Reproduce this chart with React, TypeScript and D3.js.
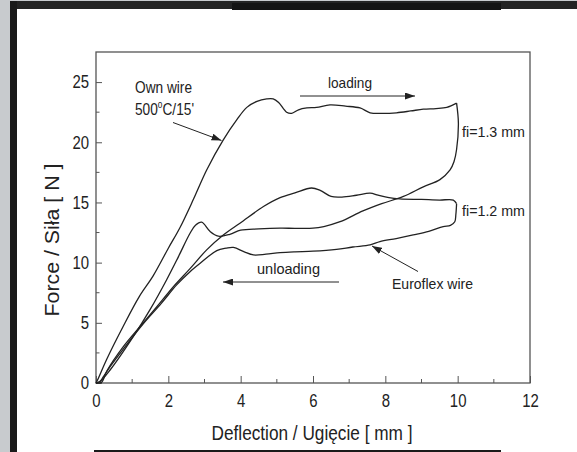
import React, { useEffect, useRef } from 'react';
import * as d3 from 'd3';

// Own wire 500°C/15', fi = 1.3 mm
const ownLoadX = [0, 0.05, 0.3, 0.75, 1.2, 1.58, 2.0, 2.32, 2.7, 3.06, 3.52, 3.9, 4.17, 4.45, 4.72, 4.9, 5.05, 5.27, 5.41, 5.6, 5.83, 6.1, 6.47, 6.9, 7.3, 7.58, 7.9, 8.31, 8.7, 9.05, 9.4, 9.7, 9.97];
const ownLoadF = [0, 0.3, 2.0, 4.7, 7.2, 8.9, 11.2, 12.9, 15.3, 17.7, 20.2, 21.9, 22.9, 23.4, 23.6, 23.6, 23.3, 22.5, 22.4, 22.7, 22.85, 22.9, 23.1, 23.0, 22.85, 22.45, 22.4, 22.45, 22.6, 22.75, 22.8, 22.9, 23.25];
const ownUnloadX = [9.97, 10.02, 9.97, 9.9, 9.79, 9.51, 9.05, 8.5, 7.9, 7.38, 6.75, 6.3, 6.0, 5.5, 5.09, 4.5, 4.0, 3.7, 3.38, 3.15, 2.92, 2.75, 2.6, 2.28, 1.95, 1.49, 1.03, 0.39, 0.1, 0];
const ownUnloadF = [23.25, 21.6, 19.4, 18.4, 17.7, 16.9, 16.3, 15.5, 14.9, 14.3, 13.4, 13.0, 12.86, 12.85, 12.86, 12.8, 12.7, 12.35, 12.2, 12.6, 13.36, 13.1, 12.44, 10.5, 8.56, 6.07, 3.85, 1.08, 0.1, 0];

// Euroflex wire, fi = 1.2 mm
const euroLoadX = [0, 0.15, 0.3, 0.75, 1.22, 1.7, 2.14, 2.6, 3.06, 3.52, 3.98, 4.63, 5.09, 5.5, 5.96, 6.2, 6.5, 6.8, 7.2, 7.58, 7.8, 8.1, 8.4, 9.0, 9.5, 9.88, 9.97];
const euroLoadF = [0, 0.05, 1.0, 3.0, 4.7, 6.4, 8.0, 9.5, 11.06, 12.3, 13.27, 14.66, 15.4, 15.8, 16.2, 16.0, 15.5, 15.45, 15.6, 15.77, 15.6, 15.4, 15.3, 15.25, 15.2, 15.2, 14.9];
const euroUnloadX = [9.97, 9.95, 9.92, 9.8, 9.6, 9.2, 8.77, 8.3, 7.85, 7.58, 7.1, 6.65, 6.0, 5.5, 5.09, 4.7, 4.35, 4.1, 3.8, 3.6, 3.34, 2.88, 2.6, 2.23, 1.8, 1.3, 0.75, 0.4, 0.2, 0.1, 0];
const euroUnloadF = [14.9, 14.0, 13.4, 13.1, 13.0, 12.6, 12.3, 12.0, 11.75, 11.47, 11.3, 11.1, 10.95, 10.9, 10.83, 10.7, 10.64, 10.9, 11.26, 11.2, 11.0, 9.95, 9.25, 8.15, 6.6, 4.9, 2.8, 1.4, 0.5, 0.1, 0];

const xMajor = [0, 2, 4, 6, 8, 10, 12];
const xMinor = [1, 3, 5, 7, 9, 11];
const yMajor = [0, 5, 10, 15, 20, 25];
const yMinor = [2.5, 7.5, 12.5, 17.5, 22.5];

const font = "'Liberation Sans', Arial, sans-serif";
const ink = '#222';

const App = () => {
  const ref = useRef<SVGSVGElement>(null);

  useEffect(() => {
    const svg = d3.select(ref.current);
    svg.selectAll('*').remove();

    // page frame
    svg.append('rect').attr('width', 577).attr('height', 452).attr('fill', '#fff');
    svg.append('rect').attr('x', 0).attr('y', 0).attr('width', 10).attr('height', 452).attr('fill', '#c8cbce');
    svg.append('rect').attr('x', 10).attr('y', 0).attr('width', 567).attr('height', 1).attr('fill', '#c8cbce');
    svg.append('rect').attr('x', 10).attr('y', 1).attr('width', 567).attr('height', 8).attr('fill', '#242424');
    svg.append('rect').attr('x', 232).attr('y', 3).attr('width', 269).attr('height', 7).attr('fill', '#141414');
    svg.append('rect').attr('x', 10).attr('y', 1).attr('width', 7).attr('height', 451).attr('fill', '#1a1a1a');
    svg.append('rect').attr('x', 94).attr('y', 450).attr('width', 407).attr('height', 2).attr('fill', '#1a1a1a');

    const x = d3.scaleLinear().domain([0, 12]).range([96, 530]);
    const y = d3.scaleLinear().domain([0, 27.5]).range([383, 52]);

    const defs = svg.append('defs');
    defs.append('marker')
      .attr('id', 'head')
      .attr('markerUnits', 'userSpaceOnUse')
      .attr('markerWidth', 10).attr('markerHeight', 7)
      .attr('refX', 10).attr('refY', 3.5)
      .attr('orient', 'auto')
      .append('path').attr('d', 'M0,0 L10,3.5 L0,7 Z').attr('fill', ink);

    // axes with inward ticks
    const xAxis = svg.append('g').attr('transform', 'translate(0,383)')
      .call(d3.axisBottom(x).tickValues(xMajor).tickSize(-7).tickPadding(11).tickFormat(d3.format('d')));
    xAxis.append('g').selectAll('line').data(xMinor).join('line')
      .attr('x1', d => x(d)).attr('x2', d => x(d)).attr('y1', 0).attr('y2', -4).attr('stroke', '#555');
    const yAxis = svg.append('g').attr('transform', 'translate(96,0)')
      .call(d3.axisLeft(y).tickValues(yMajor).tickSize(-6).tickPadding(7).tickFormat(d3.format('d')));
    yAxis.append('g').selectAll('line').data(yMinor).join('line')
      .attr('x1', 0).attr('x2', 3.5).attr('y1', d => y(d)).attr('y2', d => y(d)).attr('stroke', '#555');
    [xAxis, yAxis].forEach(g => {
      g.select('.domain').remove();
      g.selectAll('.tick line').attr('stroke', '#555');
      g.selectAll('.tick text')
        .attr('font-family', font).attr('font-size', 18).attr('fill', ink)
        .attr('lengthAdjust', 'spacingAndGlyphs')
        .attr('textLength', function () { return this.textContent.length * 8.3; });
    });

    svg.append('rect')
      .attr('x', x(0)).attr('y', y(27.5))
      .attr('width', x(12) - x(0)).attr('height', y(0) - y(27.5))
      .attr('fill', 'none').attr('stroke', '#555').attr('stroke-width', 1.3);

    // curves
    const line = d3.line<number>()
      .x(d => x(d[0]))
      .y(d => y(d[1]))
      .curve(d3.curveCatmullRom.alpha(0.5));
    const series = [
      [ownLoadX, ownLoadF],
      [ownUnloadX, ownUnloadF],
      [euroLoadX, euroLoadF],
      [euroUnloadX, euroUnloadF]
    ];
    series.forEach(([xs, fs]) => {
      svg.append('path')
        .datum(xs.map((v, i) => [v, fs[i]]))
        .attr('fill', 'none')
        .attr('stroke', ink)
        .attr('stroke-width', 1.3)
        .attr('stroke-linejoin', 'round')
        .attr('d', line);
    });

    // text helper, width forced to what the reference shows
    const note = (tx, ty, txt, size, width, anchor = 'start') =>
      svg.append('text').attr('x', tx).attr('y', ty)
        .attr('text-anchor', anchor)
        .attr('font-family', font).attr('font-size', size).attr('fill', ink)
        .attr('lengthAdjust', 'spacingAndGlyphs').attr('textLength', width)
        .text(txt);

    note(312, 440, 'Deflection / Ugięcie [ mm ]', 21, 201, 'middle');
    svg.append('text')
      .attr('transform', 'translate(58.5,240) rotate(-90)')
      .attr('text-anchor', 'middle')
      .attr('font-family', font).attr('font-size', 21).attr('fill', ink)
      .attr('lengthAdjust', 'spacingAndGlyphs').attr('textLength', 153)
      .text('Force / Siła [ N ]');

    note(135, 93, 'Own wire', 16.5, 57);
    const t500 = svg.append('g').attr('transform', 'translate(135,115) scale(0.83,1)')
      .append('text')
      .attr('font-family', font).attr('font-size', 16.5).attr('fill', ink);
    t500.append('tspan').text('500');
    t500.append('tspan').attr('dy', -7).attr('font-size', 10).text('o');
    t500.append('tspan').attr('dy', 7).text("C/15'");

    note(328, 88, 'loading', 14.5, 44);
    note(257, 274, 'unloading', 14.5, 63);
    note(392, 289, 'Euroflex wire', 14.5, 81);
    note(462, 137, 'fi=1.3 mm', 14, 63);
    note(462, 215.5, 'fi=1.2 mm', 14, 63);

    const arrow = (x1, y1, x2, y2) =>
      svg.append('line')
        .attr('x1', x1).attr('y1', y1).attr('x2', x2).attr('y2', y2)
        .attr('stroke', ink).attr('stroke-width', 1)
        .attr('marker-end', 'url(#head)');

    arrow(173, 122.5, 221.5, 140.5);
    arrow(300, 96, 415, 96);
    arrow(339, 282, 223, 282);
    arrow(418, 271.5, 372, 246);
  }, []);

  return (
    <svg ref={ref} width={577} height={452} style={{ position: 'absolute', left: 0, top: 0 }} />
  );
};

export default App;
